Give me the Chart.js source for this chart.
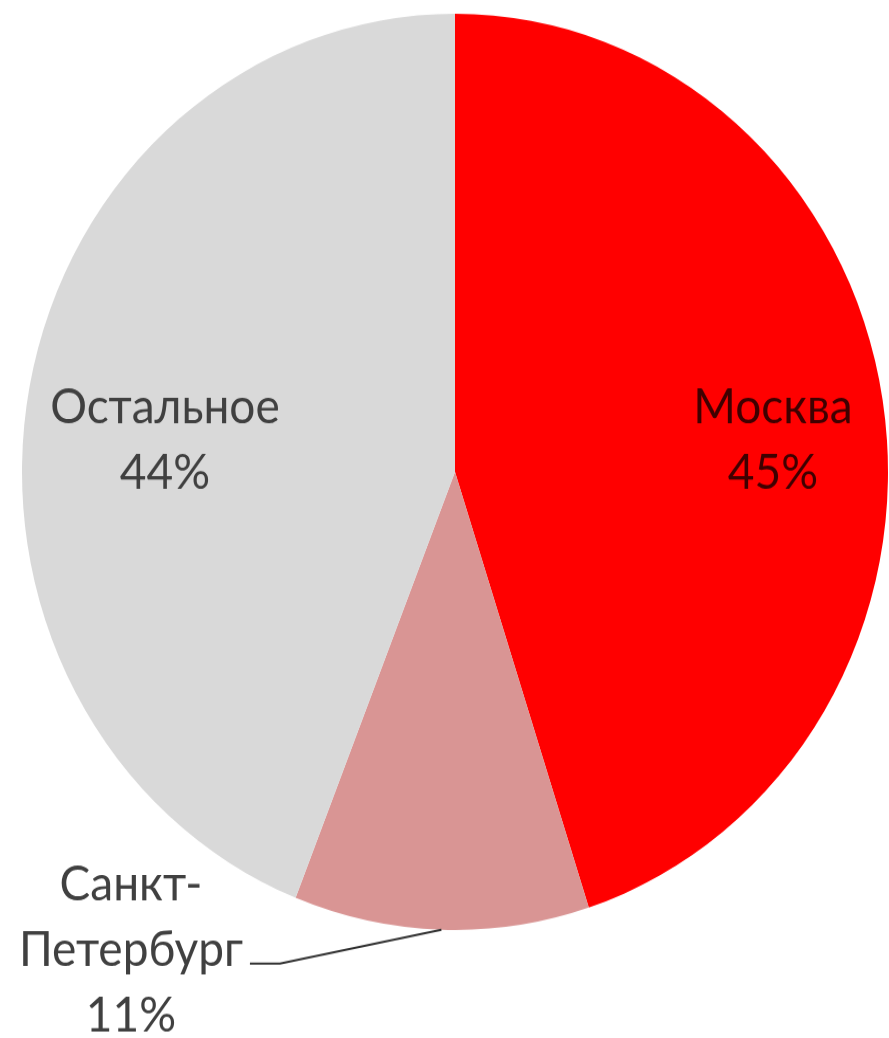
<!DOCTYPE html>
<html>
<head>
<meta charset="utf-8">
<script src="https://cdn.jsdelivr.net/npm/chart.js@4"></script>
<style>
  html, body { margin: 0; padding: 0; background: #fff; }
  #page { width: 889px; height: 1038px; overflow: hidden; }
  #wrap { width: 889px; height: 981px; transform: scaleY(1.058); transform-origin: 0 0; }
</style>
</head>
<body>
<div id="page"><div id="wrap"><canvas id="pie" width="889" height="981"></canvas></div></div>
<script>
const categories = ['Москва', 'Санкт-Петербург', 'Остальное'];
const shares = [45, 11, 44];
const labelLines = [['Москва', '45%'], ['Санкт-', 'Петербург', '11%'], ['Остальное', '44%']];

const sliceColors = ['#ff0000', '#d99594', '#d9d9d9'];
const textColors = ['#3f0000', '#404040', '#404040'];
// where each label sits: angle in degrees (screen coords) and distance as fraction of radius
const labelPos = [
  { angle: -5.75, frac: 0.738 },
  { angle: 125.75, frac: 1.281, leader: true },
  { angle: 186.3, frac: 0.674 },
];
const fontSize = 46;
const lineHeight = 62;
const fontFamily = 'Lato, "Open Sans", sans-serif';

const pieLabels = {
  id: 'pieLabels',
  afterDatasetsDraw(chart) {
    const ctx = chart.ctx;
    const arcs = chart.getDatasetMeta(0).data;
    ctx.save();
    ctx.font = `${fontSize}px ${fontFamily}`;
    ctx.textAlign = 'center';
    ctx.textBaseline = 'alphabetic';
    const capHalf = fontSize * 0.36;
    arcs.forEach((arc, i) => {
      const pos = labelPos[i];
      const a = (pos.angle * Math.PI) / 180;
      const tx = arc.x + Math.cos(a) * arc.outerRadius * pos.frac;
      const ty = arc.y + Math.sin(a) * arc.outerRadius * pos.frac;
      const lines = labelLines[i];
      ctx.fillStyle = textColors[i];
      lines.forEach((line, j) => {
        const base = ty + (j - (lines.length - 1) / 2) * lineHeight + capHalf;
        ctx.fillText(line, tx, base);
      });
      if (pos.leader) {
        // leader line from the end of the middle line to the slice edge
        const mid = (arc.startAngle + arc.endAngle) / 2;
        const ex = arc.x + Math.cos(mid) * arc.outerRadius;
        const ey = arc.y + Math.sin(mid) * arc.outerRadius;
        const y0 = ty + capHalf - 2;
        ctx.strokeStyle = '#303030';
        ctx.lineWidth = 2;
        ctx.beginPath();
        ctx.moveTo(tx + 119, y0);
        ctx.lineTo(tx + 149, y0);
        ctx.lineTo(ex, ey);
        ctx.stroke();
      }
    });
    ctx.restore();
  },
};

new Chart(document.getElementById('pie'), {
  type: 'pie',
  data: {
    labels: categories,
    datasets: [{
      data: shares,
      backgroundColor: sliceColors,
      borderWidth: 0,
    }],
  },
  options: {
    responsive: false,
    animation: false,
    layout: { padding: { left: 22, right: 1, top: 13, bottom: 102 } },
    plugins: {
      legend: { display: false },
      tooltip: { enabled: false },
    },
  },
  plugins: [pieLabels],
});
</script>
</body>
</html>
